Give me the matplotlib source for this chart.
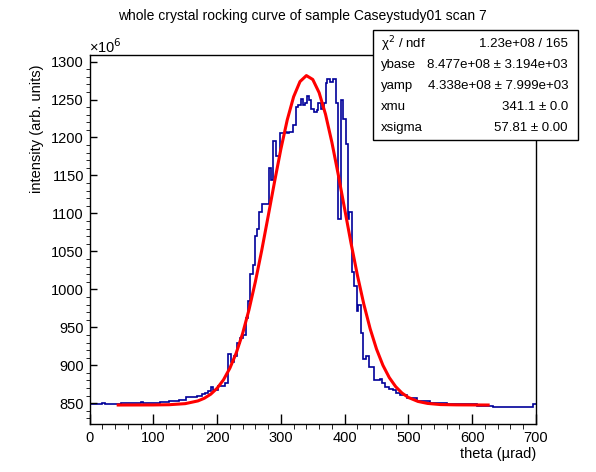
import matplotlib
matplotlib.use("Agg")
import matplotlib.pyplot as plt
import numpy as np

# histogram steps (theta in urad, intensity in 1e6)
edges = [0, 20, 24, 50, 80, 84, 110, 125, 140, 152, 168, 176, 181, 186, 191,
         194, 201, 212, 217.5, 222, 227, 231, 236, 240, 245, 248, 252, 256,
         259, 263, 266, 270.8, 281, 285, 288, 293, 298.6, 306, 309, 313, 319,
         324, 327, 331, 334, 338, 341, 344.5, 348, 352, 356, 359, 363, 367,
         370, 373, 377, 381, 386.4, 390, 393.7, 397, 402, 405.6, 407, 411,
         415, 418.7, 421.3, 425, 428, 433.3, 438.5, 446.3, 450, 455, 459, 463,
         470, 476, 481, 487, 497, 513, 534, 560, 607, 633, 696, 700]
counts = [849, 850, 849, 850, 851.5, 851, 852, 853, 854.5, 858, 860, 862,
          863, 866, 871, 868, 873, 877, 915, 905, 912, 930, 936, 940, 962,
          985, 1020, 1032, 1070, 1080, 1102, 1113, 1160, 1144, 1195, 1175,
          1206, 1207, 1206, 1207, 1216, 1240, 1243, 1251, 1243, 1245, 1255,
          1250, 1237, 1233, 1236, 1245, 1238, 1246, 1272, 1277, 1273, 1277,
          1246, 1092, 1250, 1224, 1191, 1092, 1102, 1023, 1004, 971, 980, 942,
          908, 912, 898, 881, 880, 882, 877, 871, 868.5, 868, 864, 861, 857,
          853, 851, 849.5, 847, 845.5, 849]

# fit curve points
fit_x = [45, 100, 125, 150, 170, 180, 190, 200, 210, 220, 230, 240, 250, 260,
         270, 280, 290, 300, 310, 320, 330, 340, 350, 360, 370, 380, 390, 400,
         410, 420, 430, 440, 450, 460, 470, 480, 490, 500, 515, 530, 550, 575,
         625]
fit_y = [847.7, 847.8, 848.1, 849.5, 853.1, 856.6, 861.9, 869.7, 880.8, 896.1,
         916.1, 941.7, 973.0, 1009.9, 1051.3, 1095.9, 1141.2, 1184.6, 1223.1,
         1253.6, 1273.6, 1281.5, 1276.4, 1259.0, 1230.6, 1193.6, 1151.0,
         1105.9, 1060.9, 1018.6, 980.7, 948.1, 921.3, 900.0, 883.8, 871.9,
         863.4, 857.6, 852.4, 849.8, 848.3, 847.9, 847.7]

stat_names = ["χ$^2$ / ndf", "ybase", "yamp", "xmu", "xsigma"]
stat_values = ["1.23e+08 / 165", "8.477e+08 ± 3.194e+03",
               "4.338e+08 ± 7.999e+03", "341.1 ± 0.0", "57.81 ± 0.00"]

plt.rcParams['font.family'] = ['Liberation Sans', 'DejaVu Sans']

fig = plt.figure(figsize=(5.96, 4.72), dpi=100)
W, H = 596, 472
ax = fig.add_axes([89.5 / W, 1 - 424 / H, (536 - 89.5) / W, (424 - 55) / H])

ax.stairs(counts, edges, color='#000099', lw=1.2, baseline=None)
ax.plot(fit_x, fit_y, color='red', lw=2.2)

ax.set_xlim(0, 700)
ax.set_ylim(822.7, 1308.6)
ax.set_xticks(np.arange(0, 701, 100))
ax.set_xticks(np.arange(0, 701, 20), minor=True)
ax.set_yticks(np.arange(850, 1301, 50))
ax.set_yticks(np.arange(830, 1301, 10), minor=True)
ax.tick_params(axis='both', direction='in', labelsize=10.5, width=1)
ax.tick_params(axis='x', which='major', length=7.2, pad=5)
ax.tick_params(axis='x', which='minor', length=3.6)
ax.tick_params(axis='y', which='major', length=5, pad=4)
ax.tick_params(axis='y', which='minor', length=2.9)
for sp in ax.spines.values():
    sp.set_linewidth(1)

ax.set_xlabel("theta (µrad)", fontsize=10.5)
ax.xaxis.set_label_coords(1.0, -0.062)
ax.xaxis.label.set_horizontalalignment('right')
ax.set_ylabel("intensity (arb. units)", fontsize=10.5)
ax.yaxis.set_label_coords(-0.103, 0.973)
ax.yaxis.label.set_horizontalalignment('right')

fig.text(89 / W, 1 - 47 / H, "×10$^{6}$", fontsize=10.5, va='center', ha='left')
fig.text(302 / W, 1 - 16 / H, "whole crystal rocking curve of sample Caseystudy01 scan 7",
         fontsize=10, ha='center', va='center')

# stats box
box = plt.Rectangle((373 / W, 1 - 140 / H), (578 - 373) / W, (140 - 30) / H,
                    transform=fig.transFigure, facecolor='white',
                    edgecolor='black', lw=1, zorder=5)
fig.add_artist(box)
row_y = [44, 65, 86, 107, 128]
for name, val, yy in zip(stat_names, stat_values, row_y):
    fig.text(381 / W, 1 - yy / H, name, fontsize=9.5, ha='left', va='center', zorder=6)
    fig.text(568 / W, 1 - yy / H, val, fontsize=9.5, ha='right', va='center', zorder=6)

fig.savefig("out.png", dpi=100)
